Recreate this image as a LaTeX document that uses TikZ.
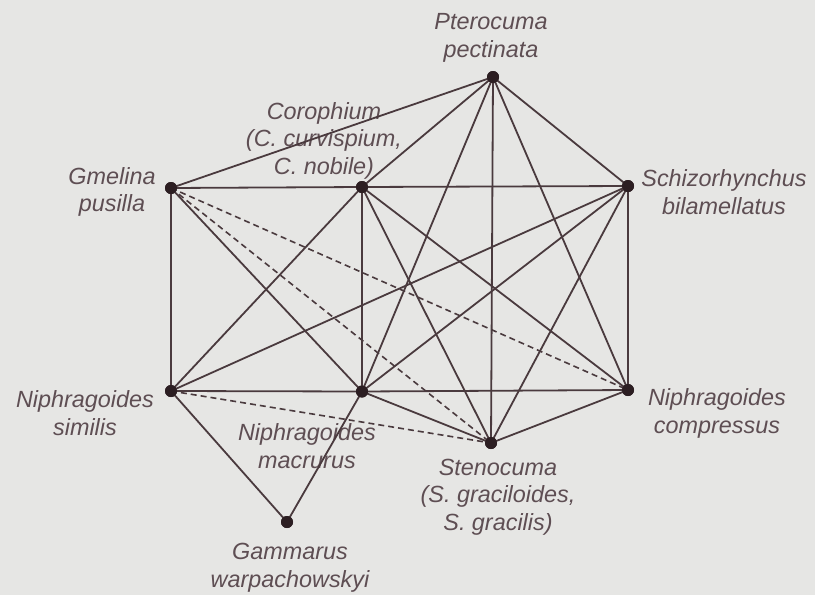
\documentclass[tikz,border=0pt]{standalone}
\usepackage{fontspec}
\setmainfont{Liberation Sans}
\definecolor{bgc}{HTML}{E6E6E4}
\definecolor{edgec}{HTML}{4A3A3E}
\definecolor{dotc}{HTML}{2C1E22}
\definecolor{textc}{HTML}{5E4E53}
\begin{document}
\begin{tikzpicture}[x=1pt,y=-1pt,
  edge/.style={draw=edgec,line width=1.8pt},
  dashedge/.style={draw=edgec,line width=1.6pt,dash pattern=on 6pt off 4pt},
  vertex/.style={circle,fill=dotc,inner sep=0pt,minimum size=12pt},
  lab/.style={text=textc,align=center,inner sep=0pt,anchor=base,
    font=\fontsize{23.4}{27.5}\selectfont\itshape}]
\fill[bgc] (0,0) rectangle (815,595);
\useasboundingbox (0,0) rectangle (815,595);
% vertices
\node[vertex] (P)   at (493,77) {};
\node[vertex] (Cor) at (362,187) {};
\node[vertex] (Gm)  at (171,188) {};
\node[vertex] (Sch) at (628,186) {};
\node[vertex] (NS)  at (171,391) {};
\node[vertex] (NM)  at (362,391.5) {};
\node[vertex] (NC)  at (628,390) {};
\node[vertex] (St)  at (491,443) {};
\node[vertex] (Ga)  at (287,522) {};
% labels (anchor base = baseline of last line)
\node[lab] (lP)   at (491,57)  {Pterocuma\\pectinata};
\node[lab] (lCor) at (324,174) {Corophium\\(C. curvispium,\\C. nobile)};
\node[lab] (lGm)  at (112,211.5) {Gmelina\\pusilla};
\node[lab] (lSch) at (724,214) {Schizorhynchus\\bilamellatus};
\node[lab] (lNS)  at (85,435)  {Niphragoides\\similis};
\node[lab] (lNM)  at (307,468) {Niphragoides\\macrurus};
\node[lab] (lNC)  at (717,433) {Niphragoides\\compressus};
\node[lab] (lSt)  at (498,530) {Stenocuma\\(S. graciloides,\\S. gracilis)};
\node[lab] (lGa)  at (290,587) {Gammarus\\warpachowskyi};
% solid edges
\foreach \a/\b in {Gm/P,Gm/Cor,Cor/Sch,Gm/NS,Gm/NM,Cor/P,Cor/NS,Cor/NM,Cor/St,Cor/NC,
  P/NM,P/St,P/NC,P/Sch,Sch/NS,Sch/NM,Sch/St,Sch/NC,NS/NM,NM/NC,NS/Ga,NM/St,NM/Ga,NC/St}
  \draw[edge] (\a.center) -- (\b.center);
% dashed edges
\foreach \a/\b in {Gm/NC,Gm/St,NS/St}
  \draw[dashedge] (\a.center) -- (\b.center);
% redraw dots on top
\foreach \n in {P,Cor,Gm,Sch,NS,NM,NC,St,Ga}
  \fill[dotc] (\n.center) circle (6pt);
\end{tikzpicture}
\end{document}
